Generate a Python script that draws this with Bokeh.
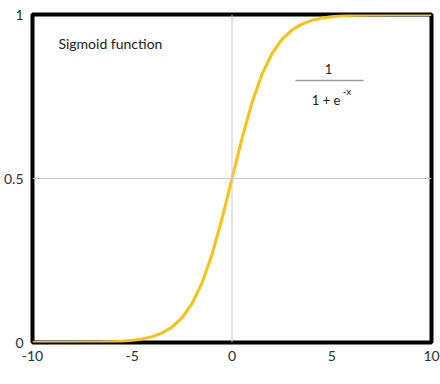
from bokeh.plotting import figure
from bokeh.models import Span, Label, FixedTicker, Range1d
from bokeh.embed import file_html
from bokeh.resources import INLINE

x_vals = [-10, -9.5, -9, -8.5, -8, -7.5, -7, -6.5, -6, -5.5, -5, -4.5, -4, -3.5, -3,
          -2.5, -2, -1.5, -1, -0.5, 0, 0.5, 1, 1.5, 2, 2.5, 3, 3.5, 4, 4.5, 5,
          5.5, 6, 6.5, 7, 7.5, 8, 8.5, 9, 9.5, 10]
y_vals = [0.0000, 0.0001, 0.0001, 0.0002, 0.0003, 0.0006, 0.0009, 0.0015, 0.0025, 0.0041,
          0.0067, 0.0110, 0.0180, 0.0293, 0.0474, 0.0759, 0.1192, 0.1824, 0.2689, 0.3775,
          0.5000, 0.6225, 0.7311, 0.8176, 0.8808, 0.9241, 0.9526, 0.9707, 0.9820, 0.9890,
          0.9933, 0.9959, 0.9975, 0.9985, 0.9991, 0.9994, 0.9997, 0.9998, 0.9999, 0.9999, 1.0000]
x_ticks = [-10, -5, 0, 5, 10]
y_ticks = [0, 0.5, 1]
y_tick_labels = {0: "0", 0.5: "0.5", 1: "1"}

FONT = "Lato"
LBL = "#2a2f3a"

p = figure(width=440, height=384, output_backend="svg", toolbar_location=None,
           x_range=Range1d(-10, 10), y_range=Range1d(0, 1),
           min_border_left=32, min_border_top=14, min_border_right=9, min_border_bottom=42)
p.xgrid.visible = False
p.ygrid.visible = False
p.outline_line_color = "black"
p.outline_line_width = 4
p.background_fill_color = "white"
p.border_fill_color = "white"

for ax in (p.xaxis[0], p.yaxis[0]):
    ax.axis_line_color = None
    ax.major_tick_line_color = None
    ax.minor_tick_line_color = None
    ax.major_tick_out = 0
    ax.major_tick_in = 0
    ax.minor_tick_out = 0
    ax.major_label_text_font = FONT
    ax.major_label_text_font_size = "14px"
    ax.major_label_text_color = LBL
p.xaxis.ticker = FixedTicker(ticks=x_ticks)
p.yaxis.ticker = FixedTicker(ticks=y_ticks)
p.yaxis.major_label_overrides = y_tick_labels
p.xaxis.major_label_overrides = {t: str(t) for t in x_ticks}
p.xaxis.major_label_standoff = 8
p.yaxis.major_label_standoff = 9

p.add_layout(Span(location=0, dimension="height", line_color="#c8c8c8", line_width=1))
p.add_layout(Span(location=0.5, dimension="width", line_color="#c8c8c8", line_width=1))

p.line(x_vals, y_vals, line_color="#fcc212", line_width=3)

p.add_layout(Label(x=-8.7, y=0.911, text="Sigmoid function", text_font=FONT,
                   text_font_size="14px", text_color="#222222", text_baseline="middle"))
p.add_layout(Label(x=4.84, y=0.835, text="1", text_font=FONT, text_font_size="13px",
                   text_color="#222222", text_align="center", text_baseline="middle"))
p.segment(x0=[3.18], y0=[0.799], x1=[6.59], y1=[0.799], line_color="#9a9a9a", line_width=1.5)
p.add_layout(Label(x=4.0, y=0.738, text="1 + e", text_font=FONT, text_font_size="13px",
                   text_color="#222222", text_baseline="middle"))
p.add_layout(Label(x=5.55, y=0.768, text="-x", text_font=FONT, text_font_size="10px",
                   text_color="#222222", text_baseline="middle"))

open("out.html", "w").write(file_html(p, INLINE))
